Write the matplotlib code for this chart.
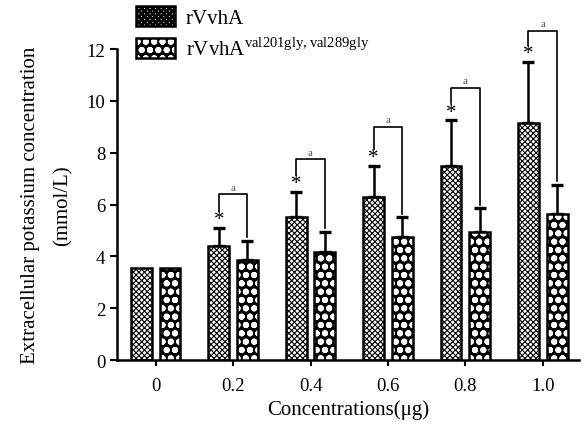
import matplotlib as mpl
mpl.use('Agg')
import matplotlib.pyplot as plt
import numpy as np
from matplotlib.legend_handler import HandlerTuple

plt.rcParams['font.family'] = ['Liberation Serif', 'DejaVu Serif']

groups = ['0', '0.2', '0.4', '0.6', '0.8', '1.0']
wild = [3.55, 4.4, 5.5, 6.3, 7.5, 9.15]
wild_err = [0.0, 0.7, 1.0, 1.2, 1.75, 2.35]
mutant = [3.55, 3.85, 4.15, 4.75, 4.95, 5.65]
mutant_err = [0.0, 0.75, 0.8, 0.75, 0.9, 1.1]
brackets = [None, 6.4, 7.75, 9.0, 10.5, 12.7]

x = np.arange(len(groups))
w = 0.27
off = 0.185

fig = plt.figure(figsize=(5.85, 4.35), dpi=100)
ax = fig.add_axes([0.2, 0.17, 0.79, 0.715])

# wild type: fine dotted pattern
plt.rcParams['hatch.linewidth'] = 0.8
ax.bar(x - off, wild, w, color='white', edgecolor='black', hatch='xxxxxx',
       linewidth=1.8, label='rVvhA', zorder=2)

# mutant: black cells with white circles
ax.bar(x + off, mutant, w, color='black', edgecolor='black', linewidth=0, zorder=2)
plt.rcParams['hatch.linewidth'] = 2.0
ax.bar(x + off, mutant, w, color='none', edgecolor='white', hatch='oo',
       linewidth=0, zorder=3)
ax.bar(x + off, mutant, w, color='none', edgecolor='black', linewidth=1.8, zorder=4)

sel = x[1:]
ax.errorbar(sel - off, wild[1:], yerr=[np.zeros(5), wild_err[1:]], fmt='none',
            ecolor='black', elinewidth=1.8, capsize=4, capthick=2.4, zorder=1)
ax.errorbar(sel + off, mutant[1:], yerr=[np.zeros(5), mutant_err[1:]], fmt='none',
            ecolor='black', elinewidth=1.8, capsize=4, capthick=2.4, zorder=1)

for i in range(1, len(groups)):
    top = brackets[i]
    left_low = wild[i] + wild_err[i] + 0.65
    right_low = mutant[i] + mutant_err[i] + 0.15
    ax.plot([x[i] - off, x[i] - off, x[i] + off, x[i] + off],
            [left_low, top, top, right_low], color='black', lw=1.2, clip_on=False)
    ax.text(x[i] - off, wild[i] + wild_err[i] - 0.05, '*', ha='center', va='bottom',
            fontsize=15)
    ax.text(x[i], top + 0.1, 'a', ha='center', va='bottom', fontsize=8,
            color='#555555', clip_on=False)

ax.set_xlim(-0.5, 5.47)
ax.set_ylim(0, 12)
ax.set_yticks(range(0, 13, 2))
ax.set_xticks(x)
ax.set_xticklabels(groups)
ax.tick_params(labelsize=13.5, width=1.5, length=5)
ax.tick_params(axis='x', length=4, pad=8)
for s in ['top', 'right']:
    ax.spines[s].set_visible(False)
for s in ['left', 'bottom']:
    ax.spines[s].set_linewidth(1.8)

ax.set_xlabel('Concentrations(μg)', fontsize=15, labelpad=4)
ax.set_ylabel('Extracellular potassium concentration\n(mmol/L)', fontsize=15,
              labelpad=10, linespacing=1.9)

plt.rcParams['hatch.linewidth'] = 0.8
h1 = mpl.patches.Patch(facecolor='white', edgecolor='black', hatch='xxxxxx', linewidth=1.8)
plt.rcParams['hatch.linewidth'] = 2.0
h2a = mpl.patches.Patch(facecolor='black', edgecolor='white', hatch='oo', linewidth=0)
h2b = mpl.patches.Patch(facecolor='none', edgecolor='black', linewidth=1.8)
ax.legend([h1, (h2a, h2b)], ['rVvhA', r'rVvhA$^{\mathregular{val201gly,val289gly}}$'],
          handler_map={tuple: HandlerTuple(ndivide=1, pad=0)},
          loc='upper left', bbox_to_anchor=(0.0, 1.2), frameon=False, fontsize=15,
          handlelength=1.9, handleheight=1.1, labelspacing=0.45, handletextpad=0.5)

fig.savefig('out.png')
